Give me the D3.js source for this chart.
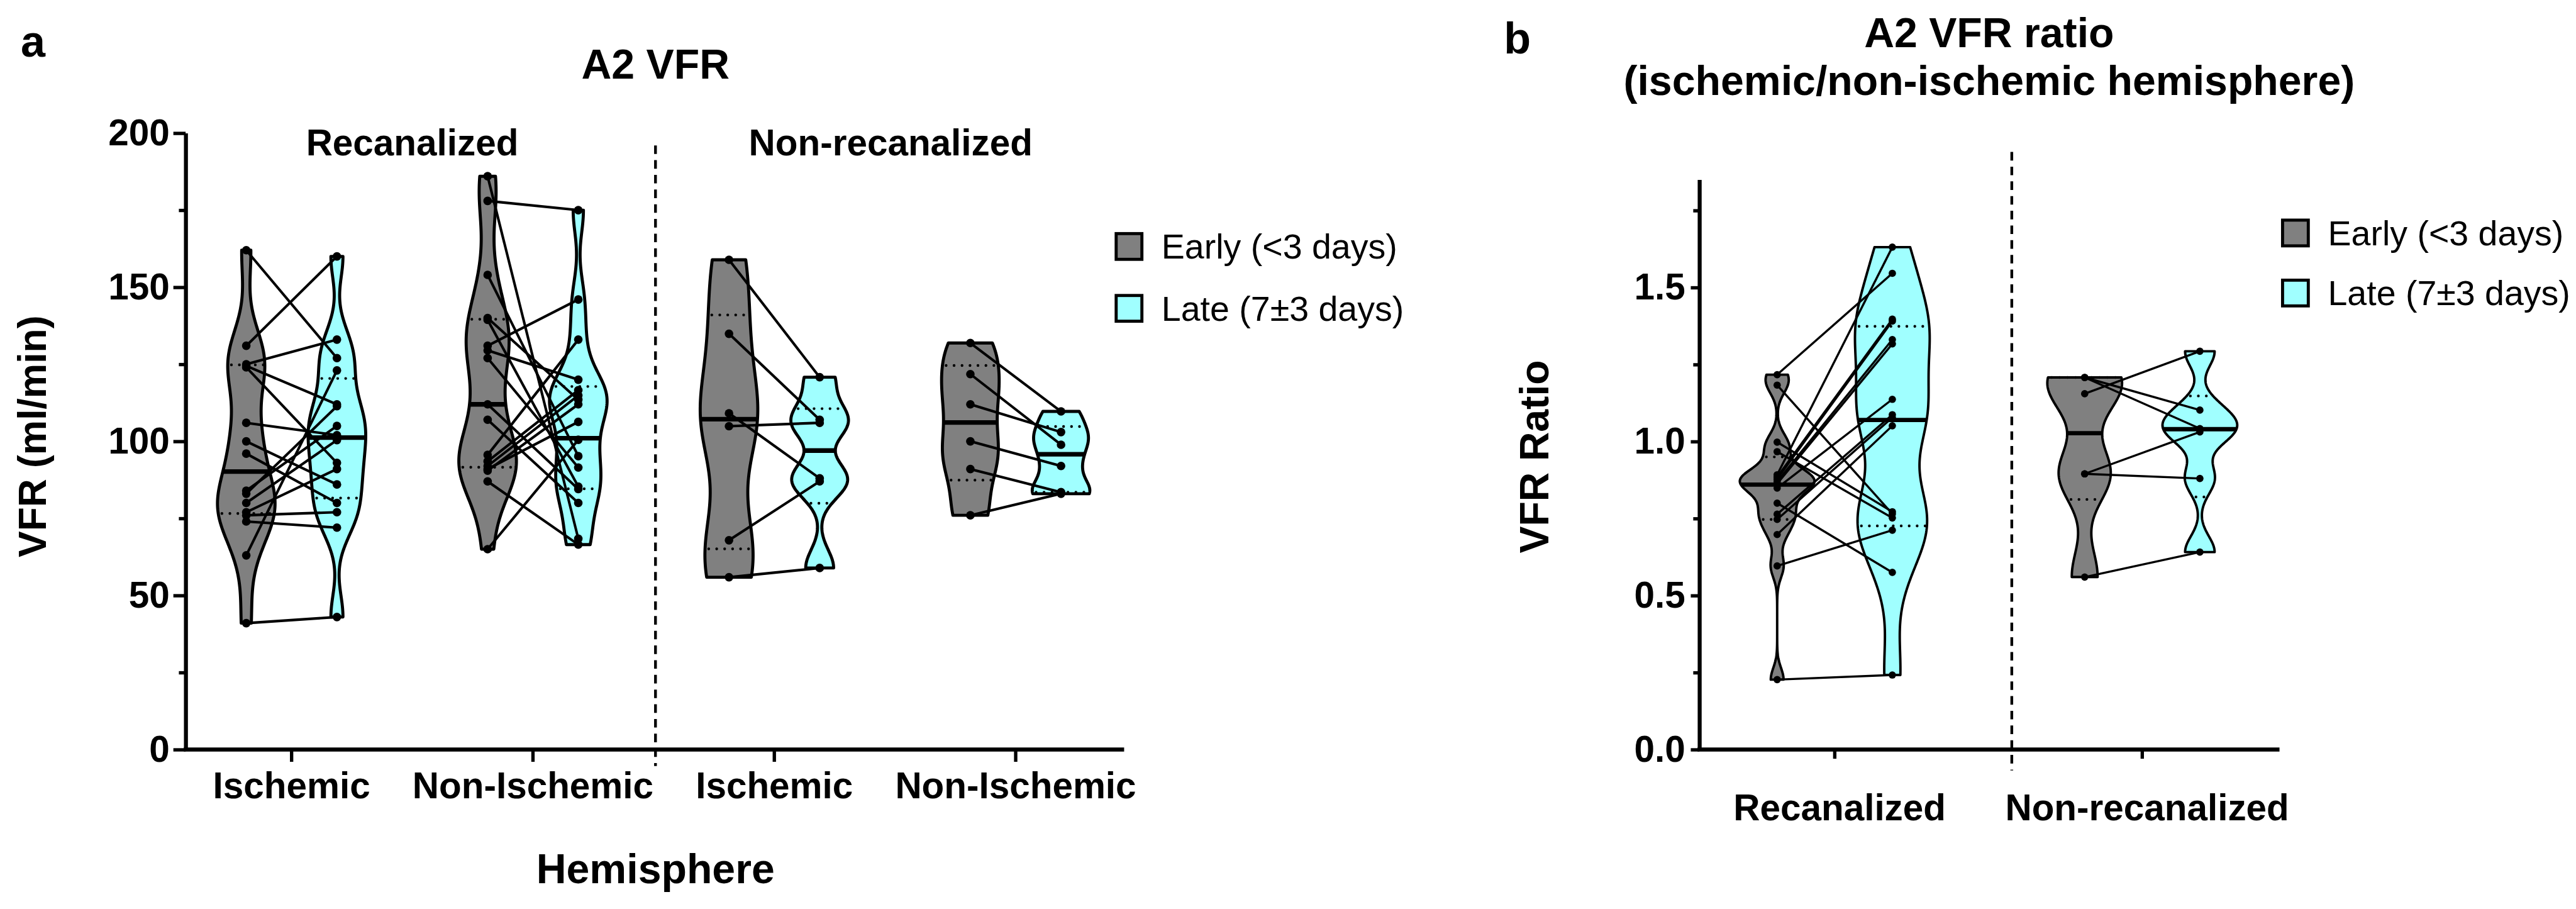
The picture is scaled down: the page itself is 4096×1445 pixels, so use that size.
<!DOCTYPE html>
<html>
<head>
    <title>A2 VFR</title>
    <style type="text/css">
        body { margin: 0; background: #fff; }
        svg text {
            font-family: 'Liberation Sans', Arial, sans-serif;
            font-weight: bold;
            fill: #000;
        }
        svg text.legend { font-weight: normal; }
    </style>
</head>
<body>
<script src="https://d3js.org/d3.v7.min.js" type="text/javascript"></script>
<script type="text/javascript">

    // ---- panel a : VFR (ml/min), early[i] is paired with late[i]
    var catsA = ['Ischemic', 'Non-Ischemic', 'Ischemic', 'Non-Ischemic'];
    var groupsA = ['Recanalized', 'Non-recanalized'];
    var recIschEarly = [162, 131, 125, 124.5, 124, 106, 100, 96, 84, 83, 80, 77, 76, 74, 63, 41];
    var recIschLate = [127, 160, 133, 112, 93, 102, 86, 80, 105, 111.4, 100.4, 91, 77, 72, 123, 43];
    var recNonEarly = [186, 178, 154, 140, 139.4, 131, 129.5, 127, 112, 107, 95.6, 93.5, 92, 91, 90.5, 87, 65];
    var recNonLate = [68.4, 175, 95.2, 113.5, 85.3, 146, 120, 91.5, 84.5, 80, 133, 116.6, 114.9, 106.3, 112, 66.5, 100.5];
    var nonIschEarly = [158.9, 134.9, 109.1, 104.9, 67.9, 55.9];
    var nonIschLate = [120.8, 107, 88, 106, 87, 58.9];
    var nonNonEarly = [131.9, 121.8, 112, 100, 91, 76];
    var nonNonLate = [109.7, 98.9, 103, 92, 83.5, 83];
    // median / quartiles: [early, late]
    var medA = [[90.2, 101.2], [112, 101], [107.2, 97], [106.1, 95.8]];
    var q1A = [[76.6, 81.6], [91.6, 84.6], [65.1, 79.9], [87.4, 83.5]];
    var q3A = [[124.8, 120.4], [139.6, 117.8], [141, 110.6], [124.6, 104.8]];
    var ticksA = [0, 50, 100, 150, 200];
    var minorA = [25, 75, 125, 175];

    // ---- panel b : VFR ratio
    var catsB = ['Recanalized', 'Non-recanalized'];
    var recRatioEarly = [1.217, 1.183, 0.998, 0.967, 0.892, 0.885, 0.878, 0.870, 0.863, 0.849, 0.800, 0.764, 0.747, 0.698, 0.596, 0.227];
    var recRatioLate = [1.546, 0.765, 0.772, 0.752, 1.631, 1.397, 1.391, 1.331, 1.317, 1.137, 0.575, 1.087, 1.078, 1.051, 0.712, 0.242];
    var nonRatioEarly = [1.208, 1.208, 1.155, 0.895, 0.895, 0.560];
    var nonRatioLate = [1.102, 1.042, 1.293, 1.031, 0.880, 0.641];
    var medB = [[0.86, 1.07], [1.027, 1.04]];
    var q1B = [[0.747, 0.726], [0.812, 0.82]];
    var q3B = [[0.95, 1.374], [1.208, 1.148]];
    var ticksB = [0, 0.5, 1.0, 1.5];
    var minorB = [0.25, 0.75, 1.25, 1.75];

    var legendLabels = ['Early (<3 days)', 'Late (7\u00b13 days)'];
    var fills = ['#808080', '#a0ffff'];

    var svg = d3.select('body').append('svg')
        .attr('viewBox', '0 0 4205 1483')
        .attr('width', 4096)
        .attr('height', 1445);

    var yA = d3.scaleLinear().domain([0, 200]).range([1223, 217]);
    var xA = d3.scalePoint().domain(d3.range(4)).range([476, 1658]);
    var yB = d3.scaleLinear().domain([0, 1.85]).range([1223, 293]);
    var xB = d3.scalePoint().domain(catsB).range([2995, 3497]);

    // violin from a gaussian kde, cut at min / max
    function violin(g, vals, cx, y, half, fill, med, q1, q3, sw, mw) {
        var sorted = vals.slice().sort(d3.ascending);
        var n = vals.length;
        var sd = d3.deviation(vals);
        var iqr = d3.quantile(sorted, 0.75) - d3.quantile(sorted, 0.25);
        var h = 0.65 * 0.9 * Math.min(sd, iqr / 1.34 || sd) * Math.pow(n, -0.2);
        var lo = sorted[0], hi = sorted[n - 1];
        var dens = function (v) {
            return d3.sum(vals, function (d) { return Math.exp(-0.5 * Math.pow((v - d) / h, 2)); });
        };
        var steps = d3.range(0, 241).map(function (i) { return lo + (hi - lo) * i / 240; });
        var maxD = d3.max(steps, dens);
        var w = function (v) { return half * dens(v) / maxD; };
        var area = d3.area()
            .y(function (v) { return y(v); })
            .x0(function (v) { return cx - w(v); })
            .x1(function (v) { return cx + w(v); });
        g.append('path').attr('d', area(steps))
            .attr('fill', fill).attr('stroke', '#000').attr('stroke-width', sw)
            .attr('stroke-linejoin', 'round');
        [q1, q3].forEach(function (q) {
            g.append('line')
                .attr('x1', cx - w(q) + 6).attr('x2', cx + w(q) - 2)
                .attr('y1', y(q)).attr('y2', y(q))
                .attr('stroke', '#000').attr('stroke-width', 4.5)
                .attr('stroke-linecap', 'round').attr('stroke-dasharray', '0 13');
        });
        g.append('line')
            .attr('x1', cx - w(med)).attr('x2', cx + w(med))
            .attr('y1', y(med)).attr('y2', y(med))
            .attr('stroke', '#000').attr('stroke-width', mw);
    }

    function pairs(g, early, late, xe, xl, y, r, lw) {
        early.forEach(function (e, i) {
            g.append('line')
                .attr('x1', xe).attr('y1', y(e))
                .attr('x2', xl).attr('y2', y(late[i]))
                .attr('stroke', '#000').attr('stroke-width', lw);
        });
        g.selectAll(null).data(early).enter().append('circle')
            .attr('cx', xe).attr('cy', function (d) { return y(d); }).attr('r', r);
        g.selectAll(null).data(late).enter().append('circle')
            .attr('cx', xl).attr('cy', function (d) { return y(d); }).attr('r', r);
    }

    function yAxis(g, y, x, major, minor, fmt, len, minLen, pad) {
        var ax = g.append('g').attr('transform', 'translate(' + x + ',0)')
            .call(d3.axisLeft(y).tickValues(major).tickSize(len).tickSizeOuter(0)
                .tickPadding(pad).tickFormat(fmt));
        ax.select('.domain').attr('stroke-width', 6.5);
        ax.selectAll('.tick line').attr('stroke-width', 5.5);
        ax.selectAll('text').attr('font-size', 60).attr('font-family', null);
        var mn = g.append('g').attr('transform', 'translate(' + x + ',0)')
            .call(d3.axisLeft(y).tickValues(minor).tickSize(minLen).tickSizeOuter(0).tickFormat(''));
        mn.select('.domain').remove();
        mn.selectAll('.tick line').attr('stroke-width', 5.5);
    }

    function xAxis(g, x, y0, x0, x1, len) {
        g.append('line').attr('x1', x0 - 3).attr('x2', x1)
            .attr('y1', y0).attr('y2', y0)
            .attr('stroke', '#000').attr('stroke-width', 6.5);
        g.selectAll(null).data(x.domain()).enter().append('line')
            .attr('x1', function (d) { return x(d); }).attr('x2', function (d) { return x(d); })
            .attr('y1', y0).attr('y2', y0 + len)
            .attr('stroke', '#000').attr('stroke-width', 5.5);
    }

    function legend(g, x, ys) {
        legendLabels.forEach(function (t, i) {
            g.append('rect').attr('x', x).attr('y', ys[i] - 21)
                .attr('width', 42).attr('height', 42)
                .attr('fill', fills[i]).attr('stroke', '#000').attr('stroke-width', 5);
            g.append('text').attr('class', 'legend')
                .attr('x', x + 74).attr('y', ys[i] + 20)
                .attr('font-size', 57).text(t);
        });
    }

    // ================= panel a
    var ga = svg.append('g');
    var offA = 74;
    var setsA = [[recIschEarly, recIschLate], [recNonEarly, recNonLate],
                 [nonIschEarly, nonIschLate], [nonNonEarly, nonNonLate]];
    setsA.forEach(function (s, i) {
        var cx = xA(i);
        violin(ga, s[0], cx - offA, yA, 47, fills[0], medA[i][0], q1A[i][0], q3A[i][0], 5, 7.5);
        violin(ga, s[1], cx + offA, yA, 47, fills[1], medA[i][1], q1A[i][1], q3A[i][1], 5, 7.5);
    });
    setsA.forEach(function (s, i) {
        pairs(ga, s[0], s[1], xA(i) - offA, xA(i) + offA, yA, 7, 4.2);
    });

    yAxis(ga, yA, 303, ticksA, minorA, d3.format('d'), 20, 11, 6);
    xAxis(ga, xA, 1223, 303, 1835, 20);
    ga.selectAll(null).data(catsA).enter().append('text')
        .attr('x', function (d, i) { return xA(i); }).attr('y', 1303)
        .attr('text-anchor', 'middle').attr('font-size', 60)
        .text(function (d) { return d; });

    var sepA = (xA(1) + xA(2)) / 2 + 3;
    ga.append('line').attr('x1', sepA).attr('x2', sepA)
        .attr('y1', yA(196)).attr('y2', yA(0) + 27)
        .attr('stroke', '#000').attr('stroke-width', 4.5).attr('stroke-dasharray', '14 10');

    ga.selectAll(null).data(groupsA).enter().append('text')
        .attr('x', function (d, i) { return (xA(2 * i) + xA(2 * i + 1)) / 2 - 7 * i; })
        .attr('y', 253).attr('text-anchor', 'middle').attr('font-size', 60)
        .text(function (d) { return d; });

    ga.append('text').attr('x', 34).attr('y', 92).attr('font-size', 72).text('a');
    ga.append('text').attr('x', sepA).attr('y', 128).attr('text-anchor', 'middle')
        .attr('font-size', 68).text('A2 VFR');
    ga.append('text').attr('x', sepA).attr('y', 1441).attr('text-anchor', 'middle')
        .attr('font-size', 68).text('Hemisphere');
    ga.append('text').attr('transform', 'translate(75,712) rotate(-90)')
        .attr('text-anchor', 'middle').attr('font-size', 64).text('VFR (ml/min)');
    legend(ga, 1822, [402, 503]);

    // ================= panel b
    var gb = svg.append('g');
    var offB = 94;
    var setsB = [[recRatioEarly, recRatioLate], [nonRatioEarly, nonRatioLate]];
    setsB.forEach(function (s, i) {
        var cx = xB(catsB[i]);
        violin(gb, s[0], cx - offB, yB, 61, fills[0], medB[i][0], q1B[i][0], q3B[i][0], 4, 7);
        violin(gb, s[1], cx + offB, yB, 61, fills[1], medB[i][1], q1B[i][1], q3B[i][1], 4, 7);
    });
    setsB.forEach(function (s, i) {
        var cx = xB(catsB[i]);
        pairs(gb, s[0], s[1], cx - offB, cx + offB, yB, 6, 3.5);
    });

    yAxis(gb, yB, 2774, ticksB, minorB, d3.format('.1f'), 14, 10, 9);
    xAxis(gb, xB, 1223, 2774, 3721, 15);
    gb.selectAll(null).data(catsB).enter().append('text')
        .attr('x', function (d) { return xB(d) + 8; }).attr('y', 1338)
        .attr('text-anchor', 'middle').attr('font-size', 60)
        .text(function (d) { return d; });

    var sepB = (xB(catsB[0]) + xB(catsB[1])) / 2 + 38;
    gb.append('line').attr('x1', sepB).attr('x2', sepB)
        .attr('y1', yB(1.94)).attr('y2', yB(0) + 34)
        .attr('stroke', '#000').attr('stroke-width', 4.5).attr('stroke-dasharray', '14 10');

    gb.append('text').attr('x', 2455).attr('y', 87).attr('font-size', 72).text('b');
    gb.append('text').attr('x', 3247).attr('y', 77).attr('text-anchor', 'middle')
        .attr('font-size', 68).text('A2 VFR ratio');
    gb.append('text').attr('x', 3247).attr('y', 155).attr('text-anchor', 'middle')
        .attr('font-size', 68).text('(ischemic/non-ischemic hemisphere)');
    gb.append('text').attr('transform', 'translate(2528,745) rotate(-90)')
        .attr('text-anchor', 'middle').attr('font-size', 66).text('VFR Ratio');
    legend(gb, 3726, [380, 478]);

</script>
</body>
</html>
